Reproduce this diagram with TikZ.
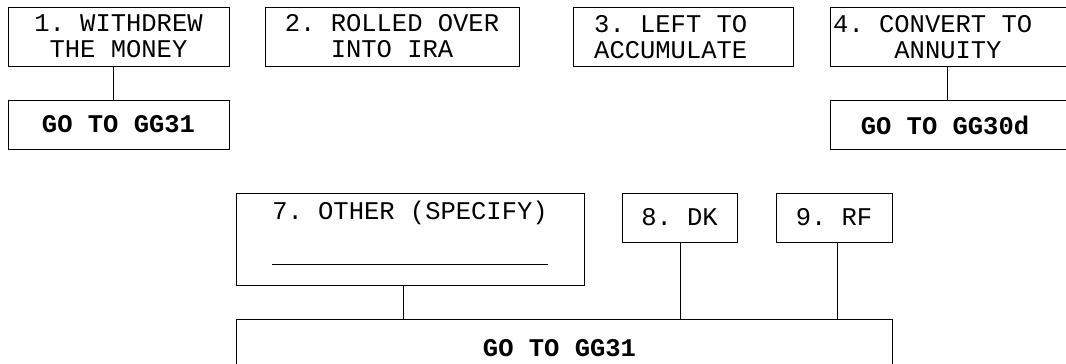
\documentclass[tikz,border=0pt]{standalone}
\usepackage{fontspec}
\setmonofont{Liberation Mono}
\begin{document}
\begin{tikzpicture}[x=1pt,y=-1pt,
  box/.style={draw, line width=1pt, inner sep=0pt, align=center,
    font=\fontsize{25.5}{26}\selectfont\ttfamily},
  gobox/.style={box, font=\fontsize{25.5}{26}\selectfont\ttfamily\bfseries},
  txt/.style={inner sep=0pt, align=left, font=\fontsize{25.5}{26}\selectfont\ttfamily},
  link/.style={line width=1pt}]
\useasboundingbox (0,0) rectangle (1066,364);
% top row
\node[box, minimum width=221, minimum height=59] (b1) at (118.5,36.5) {1. WITHDREW\\THE MONEY};
\node[gobox, minimum width=221, minimum height=49] (g1) at (118.5,124.5) {GO TO GG31};
\node[box, minimum width=254, minimum height=59] (b2) at (392,36.5) {2. ROLLED OVER\\INTO IRA};
\node[box, minimum width=220, minimum height=59] (b3) at (683,36.5) {};
\node[txt, anchor=west] (t3) at (594,37) {3. LEFT TO\\ACCUMULATE};
\node[box, minimum width=240, minimum height=59] (b4) at (950,36.5) {};
\node[txt, anchor=west] (t4) at (833,37) {4. CONVERT TO\\\hphantom{4. C}ANNUITY};
\node[box, minimum width=240, minimum height=49] (g4) at (950,124.5) {};
\node[txt, font=\fontsize{25.5}{26}\selectfont\ttfamily\bfseries] (t4g) at (945,125) {GO TO GG30d};
\draw[link] (b1.south -| 113,0) -- (g1.north -| 113,0);
\draw[link] (b4.south -| 947,0) -- (g4.north -| 947,0);
% lower group
\node[box, minimum width=348, minimum height=92] (b7) at (410,239) {};
\node[txt] (t7) at (410,213) {7. OTHER (SPECIFY)};
\draw[link] (t7.west |- 0,264) -- (t7.east |- 0,264);
\node[box, minimum width=115, minimum height=49] (b8) at (679.5,217.5) {8. DK};
\node[box, minimum width=116, minimum height=49] (b9) at (834,217.5) {9. RF};
\node[box, minimum width=656, minimum height=59] (gb) at (564,348.5) {};
\node[txt, font=\fontsize{25.5}{26}\selectfont\ttfamily\bfseries] (tgb) at (559.5,348) {GO TO GG31};
\draw[link] (b7.south -| 403,0) -- (gb.north -| 403,0);
\draw[link] (b8.south -| 680,0) -- (gb.north -| 680,0);
\draw[link] (b9.south -| 837,0) -- (gb.north -| 837,0);
\end{tikzpicture}
\end{document}
